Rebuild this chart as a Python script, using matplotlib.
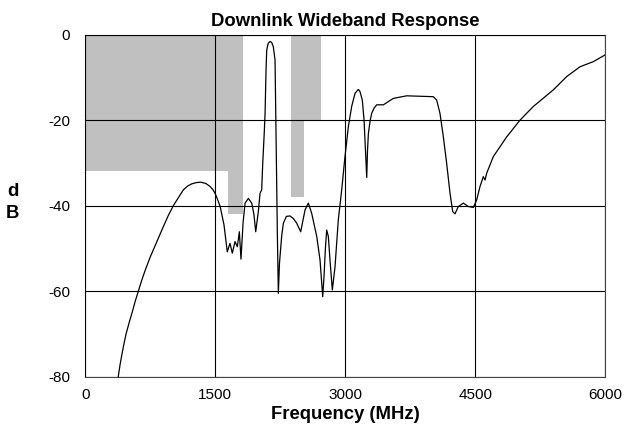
import numpy as np
import matplotlib
matplotlib.use("Agg")
import matplotlib.pyplot as plt

plt.rcParams['font.family'] = ['Liberation Sans', 'DejaVu Sans']
plt.rcParams['axes.unicode_minus'] = False

# measured response, frequency in MHz and level in dB
freq = [380, 400, 420, 445, 470, 505, 540, 575, 612, 650, 691, 745, 800, 850, 900, 955,
        1015, 1080, 1131, 1180, 1227, 1280, 1331, 1390, 1439, 1470,
        1497, 1525, 1556, 1600, 1638, 1669, 1696, 1727, 1754, 1777, 1796, 1820,
        1843, 1881, 1920, 1945, 1966, 1996, 2016, 2035, 2047, 2066, 2074, 2085,
        2093, 2110, 2131, 2150, 2169, 2189, 2200, 2215, 2227, 2240, 2266, 2285,
        2320, 2362, 2400, 2439, 2485, 2535, 2573, 2612, 2670, 2708, 2739, 2754,
        2770, 2785, 2804, 2823, 2850, 2881, 2919, 2958, 2996, 3035, 3073, 3112,
        3150, 3169, 3196, 3216, 3227, 3235, 3247, 3256, 3266, 3285, 3304, 3331,
        3362, 3439, 3554, 3708, 3850, 4015, 4054, 4092, 4131, 4169, 4208, 4239,
        4265, 4304, 4362, 4419, 4477, 4515, 4554, 4592, 4612, 4631, 4708, 4862,
        5015, 5169, 5400, 5554, 5708, 5862, 6000]
resp = [-80, -77.3, -75, -72.4, -70, -67.4, -65, -62.4, -60, -57.5, -55.1, -52.2, -49.6, -47.2, -44.9, -42.4,
        -40, -37.9, -36.3, -35.4, -34.9, -34.6, -34.5, -34.8, -35.5, -36.2,
        -37.1, -38.5, -40.2, -44.5, -50.8, -48.8, -51.1, -48.4, -49.6, -46.1, -52.5, -44,
        -39.4, -38.3, -39.4, -42, -46.1, -41.4, -37.1, -36.3, -30.1, -22.3, -18.4, -8.3,
        -3.6, -2, -1.6, -1.8, -2.8, -5.9, -22.3, -45.7, -60.5, -53.5, -47, -44.1,
        -42.5, -42.4, -43, -44.1, -46.1, -41, -39.4, -41.8, -47.2, -52.7, -61.3, -56.6,
        -50, -45.7, -47.2, -52.7, -59.7, -54.3, -43.3, -36.3, -28.5, -21.5, -16.8, -13.7,
        -12.8, -13.3, -15.3, -20, -24.6, -28, -33.4, -27, -23.1, -20.3, -18.4, -17.2,
        -16.4, -16.4, -14.9, -14.3, -14.4, -14.5, -15.3, -18.4, -23.9, -30.1, -37.1, -41.4,
        -41.9, -40.2, -39.4, -40.2, -40.4, -38.7, -35.5, -33.2, -34, -32.4, -28.5, -23.9,
        -20, -16.8, -12.9, -9.8, -7.5, -6.3, -4.7]

# spec mask (gray), steps
mask1_x = [0, 1650, 1820]
mask1_y = [-32, -42, -42]
mask2_x = [2375, 2525, 2720]
mask2_y = [-38, -20, -20]

xticks = [0, 1500, 3000, 4500, 6000]
yticks = [0, -20, -40, -60, -80]

fig = plt.figure(figsize=(6.26, 4.43), dpi=100)
ax = fig.add_axes([0.1363, 0.1497, 0.967 - 0.1363, 0.9217 - 0.1497])

ax.fill_between(mask1_x, mask1_y, 0, step='post', color='#c0c0c0', lw=0, zorder=1)
ax.fill_between(mask2_x, mask2_y, 0, step='post', color='#c0c0c0', lw=0, zorder=1)

ax.plot(freq, resp, color='black', lw=0.9, zorder=3)

ax.set_xlim(0, 6000)
ax.set_ylim(-80, 0)
ax.set_xticks(xticks)
ax.set_yticks(yticks)
ax.grid(True, color='black', lw=0.8, zorder=2)
ax.set_axisbelow(False)
for s in ax.spines.values():
    s.set_color('#444444')
    s.set_linewidth(0.8)
ax.tick_params(length=0, labelsize=11)
ax.tick_params(axis='x', pad=8)
ax.tick_params(axis='y', pad=11)

ax.set_title("Downlink Wideband Response", fontsize=13.3, fontweight='bold', pad=6)
ax.set_xlabel("Frequency (MHz)", fontsize=13.3, fontweight='bold', labelpad=3)
fig.text(0.02, 0.542, "d\nB", fontsize=13.3, fontweight='bold', ha='center', va='center',
         linespacing=1.4)

fig.savefig("out.png", dpi=100)
